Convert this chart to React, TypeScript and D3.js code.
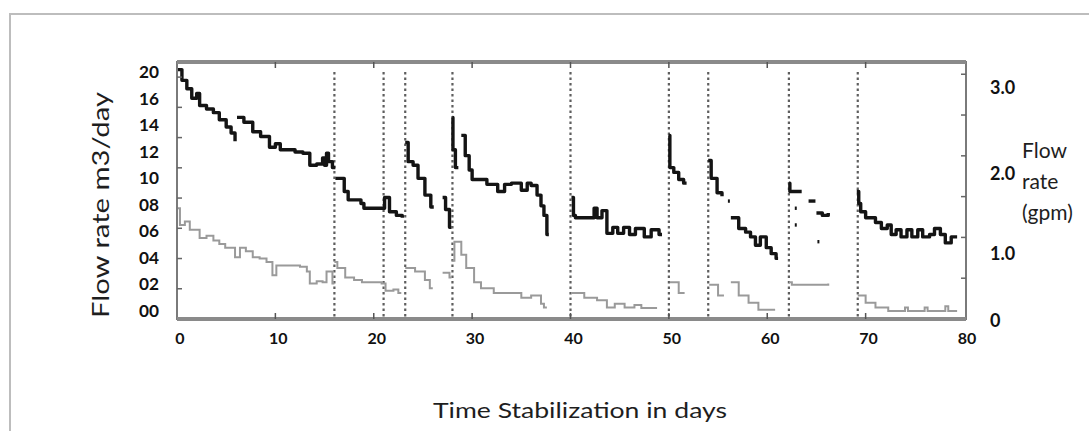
import React from "react";
import * as d3 from "d3";

type Pt = [number, number];

// day markers where the system was reset
const resetDays = [16, 21, 23.2, 28, 40, 50, 54, 62.2, 69.2];

const xTickValues = [0, 10, 20, 30, 40, 50, 60, 70, 80];
const leftTickLabels = ["20", "16", "14", "12", "10", "08", "06", "04", "02", "00"];
const rightTickValues = [3, 2, 1, 0];
const rightTitle = ["Flow", "rate", "(gpm)"];

// upper (black) series, m3/day, one array per run
const blackRuns: Pt[][] = [
  [[0, 20.2], [0.5, 19.3], [1, 18.6], [1.5, 17.8], [2, 18.2], [2.3, 17.2], [3, 16.9], [3.7, 16.6], [4.3, 16.0], [5, 15.4], [5.5, 14.9], [5.9, 14.2]],
  [[6.1, 16.2], [6.8, 15.8], [7.7, 15.0], [8.5, 14.6], [9.4, 13.7], [10, 14.0], [10.5, 13.5], [11.1, 13.5], [12, 13.3], [12.8, 13.2], [13.5, 12.2], [14.2, 12.3], [14.8, 12.8], [15, 12.2], [15.2, 13.2], [15.4, 12.5], [15.8, 12.0], [16.1, 12.0]],
  [[16.1, 11.1], [17, 10.0], [17.4, 9.3], [18.7, 9.0], [19, 8.6], [20.9, 8.6], [21.1, 9.5], [21.6, 8.3], [22.3, 8.0], [22.9, 7.8]],
  [[23.2, 14.1], [23.5, 12.5], [24, 12.2], [24.5, 11.1], [25.2, 9.7], [25.8, 8.7], [26.1, 8.7]],
  [[27, 9.5], [27.3, 8.5], [27.7, 7.0], [27.9, 7.0]],
  [[28, 16.2], [28.05, 13.5], [28.3, 12.0], [28.6, 12.0]],
  [[28.9, 14.7], [29.3, 13.0], [29.7, 11.8], [30, 11.0], [30.9, 11.0], [31.5, 10.6], [32.6, 10.0], [33.3, 10.6], [34, 10.7], [35, 10.1], [35.6, 10.7], [36, 10.5], [36.6, 9.7], [37, 8.8], [37.3, 8.0], [37.6, 6.4], [37.8, 6.4]],
  [[40.1, 9.5], [40.3, 8.0], [40.5, 7.8], [42.1, 7.8], [42.4, 8.6], [42.7, 7.8], [43.2, 8.4], [43.7, 6.5], [44.3, 7.0], [44.8, 6.5], [45.4, 7.0], [46, 6.4], [46.6, 6.9], [47.5, 6.2], [48.2, 6.8], [49, 6.4], [49.3, 6.4]],
  [[50, 14.7], [50.1, 12.0], [50.5, 11.6], [51, 11.0], [51.5, 10.7], [51.8, 10.7]],
  [[54, 12.6], [54.3, 11.1], [54.9, 9.9], [55.4, 9.6]],
  [[56, 9.2], [56.2, 9.2]],
  [[56.3, 7.8], [57.1, 6.9], [57.8, 6.6], [58.3, 6.2], [58.8, 5.5], [59.3, 6.2], [59.9, 5.3], [60.4, 4.8], [60.9, 4.4], [61.1, 4.4]],
  [[62.2, 10.7], [62.3, 10.0], [63.5, 10.0]],
  [[64.2, 9.2], [64.9, 9.2]],
  [[65, 8.2], [65.6, 8.0], [66.2, 8.2]],
  [[62.8, 8.6], [63, 8.6]],
  [[62.8, 7.2], [63, 7.2]],
  [[65.1, 5.8], [65.3, 5.8]],
  [[69.1, 10.0], [69.3, 9.0], [69.5, 8.3], [70, 7.8], [71, 7.4], [71.6, 6.9], [72.2, 7.2], [72.6, 6.4], [73.1, 6.8], [73.6, 6.2], [74.2, 6.8], [74.7, 6.2], [75.3, 6.8], [75.8, 6.2], [76.5, 6.4], [77, 6.9], [77.6, 6.4], [78.1, 5.7], [78.7, 6.2], [79.3, 6.2]],
];

// lower (grey) series, m3/day
const greyRuns: Pt[][] = [
  [[0, 8.6], [0.3, 7.2], [0.8, 7.5], [1.3, 6.8], [2.3, 6.1], [3, 6.3], [3.7, 5.9], [4.3, 5.6], [4.9, 5.3], [5.9, 4.5], [6.4, 5.3], [7, 5.0], [7.7, 4.5], [8.4, 4.4], [9.1, 4.1], [9.7, 3.0], [10.1, 3.8], [11, 3.8], [12.5, 3.7], [13.2, 3.3], [13.5, 2.3], [14.2, 2.5], [14.8, 2.4], [15.2, 3.3], [15.8, 2.3], [16, 2.3]],
  [[16, 4.1], [16.3, 3.6], [17.1, 2.8], [18, 2.6], [18.8, 2.4], [20.8, 2.3], [21.2, 1.7], [22, 1.8], [22.5, 1.5], [22.8, 1.5]],
  [[23.2, 3.6], [24.2, 3.3], [25.2, 2.6], [25.7, 1.9], [26, 1.9]],
  [[27, 3.2], [27.7, 2.8], [27.9, 2.8]],
  [[28, 4.2], [28.2, 5.8], [28.9, 4.7], [29.4, 3.6], [30.2, 2.4], [30.9, 1.9], [32.2, 1.5], [34, 1.5], [35, 1.1], [36, 1.3], [37, 0.6], [37.3, 0.3], [37.6, 0.3]],
  [[40.1, 1.5], [41.4, 1.1], [42.7, 0.9], [43.7, 0.3], [44.5, 0.6], [45.5, 0.3], [46.5, 0.5], [47.2, 0.25], [48.8, 0.25]],
  [[50.1, 2.4], [51, 1.5], [51.6, 1.5]],
  [[54.1, 2.2], [55, 1.3], [55.6, 1.3]],
  [[56.3, 2.4], [57.1, 1.3], [58.1, 0.7], [59.1, 0.1], [60.8, 0.1]],
  [[62.2, 2.4], [62.5, 2.2], [66.2, 2.3]],
  [[69.2, 1.3], [70, 0.7], [71, 0.3], [72.3, 0.0], [74, 0.3], [74.3, 0.0], [76, 0.3], [76.3, 0.0], [78.1, 0.4], [78.4, 0.0], [79.3, 0.0]],
];

const W = 1089;
const H = 431;
const frame = { left: 177, right: 966, top: 62, bottom: 319 };

const x = d3.scaleLinear().domain([0, 80]).range([frame.left, 964]);
const y = d3.scaleLinear().domain([0, 20]).range([311, 72]);
const yLabel = d3.scalePoint<string>().domain(leftTickLabels).range([72, 311]);
const yGpm = d3.scalePow().exponent(1.14).domain([0, 3]).range([320, 87]);
const yInner = d3.scaleLinear().domain([0, 8.5]).range([frame.bottom, frame.top]);
const yInnerRight = d3.scaleLinear().domain([0, 6.3]).range([frame.bottom, frame.top]);

const line = d3
  .line<Pt>()
  .x((d) => x(d[0]))
  .y((d) => y(d[1]))
  .curve(d3.curveStepAfter);

const numFont = "Lato, 'DejaVu Sans', sans-serif";
const titleFont = "Lato, 'Open Sans', sans-serif";

export default function App() {
  return (
    <svg
      width={W}
      height={H}
      style={{ position: "absolute", left: 0, top: 0, background: "#fff" }}
    >
      {/* outer page border */}
      <path d={`M10,${H} V14 H${W}`} fill="none" stroke="#bdbdbd" strokeWidth={2} />

      {/* reset markers */}
      {resetDays.map((d) => (
        <line
          key={d}
          x1={x(d)}
          x2={x(d)}
          y1={72}
          y2={frame.bottom - 2}
          stroke="#5e5e5e"
          strokeWidth={2.2}
          strokeDasharray="2.5,3"
        />
      ))}

      {/* grey series */}
      {greyRuns.map((run, i) => (
        <path key={"g" + i} d={line(run) || ""} fill="none" stroke="#9a9a9a" strokeWidth={2} />
      ))}

      {/* black series */}
      {blackRuns.map((run, i) => (
        <path key={"b" + i} d={line(run) || ""} fill="none" stroke="#141414" strokeWidth={3.4} strokeLinejoin="round" />
      ))}

      {/* frame */}
      <rect
        x={frame.left}
        y={frame.top}
        width={frame.right - frame.left}
        height={frame.bottom - frame.top}
        fill="none"
        stroke="#7a7a7a"
        strokeWidth={2}
      />
      <line x1={frame.left} x2={frame.right} y1={frame.top} y2={frame.top} stroke="#8a8a8a" strokeWidth={4} />
      <line x1={frame.left} x2={frame.right} y1={frame.bottom} y2={frame.bottom} stroke="#8a8a8a" strokeWidth={4} />

      {/* inner frame ticks */}
      {xTickValues.slice(1, -1).map((d) => (
        <g key={"t" + d} stroke="#555" strokeWidth={1.5}>
          <line x1={x(d)} x2={x(d)} y1={frame.top} y2={frame.top + 6} />
          <line x1={x(d)} x2={x(d)} y1={frame.bottom} y2={frame.bottom - 6} />
        </g>
      ))}
      {d3.range(1, 9).map((v) => (
        <line key={"l" + v} x1={frame.left} x2={frame.left + 5} y1={yInner(v)} y2={yInner(v)} stroke="#666" strokeWidth={1.5} />
      ))}
      {d3.range(1, 7).map((v) => (
        <line key={"r" + v} x1={frame.right} x2={frame.right - 5} y1={yInnerRight(v)} y2={yInnerRight(v)} stroke="#666" strokeWidth={1.5} />
      ))}

      {/* left tick labels */}
      {leftTickLabels.map((t) => (
        <text
          key={t}
          x={159}
          y={(yLabel(t) || 0) + 6}
          textAnchor="end"
          fontFamily={numFont}
          fontWeight="bold"
          fontSize={17}
          fill="#111"
          textLength={20}
          lengthAdjust="spacingAndGlyphs"
        >
          {t}
        </text>
      ))}

      {/* right tick labels */}
      {rightTickValues.map((v) => (
        <text
          key={v}
          x={990}
          y={yGpm(v) + 7}
          fontFamily={numFont}
          fontWeight="bold"
          fontSize={18}
          fill="#111"
        >
          {v === 0 ? "0" : v.toFixed(1)}
        </text>
      ))}

      {/* bottom tick labels */}
      {xTickValues.map((v) => (
        <text
          key={v}
          x={x(v) + 3}
          y={344}
          textAnchor="middle"
          fontFamily={numFont}
          fontWeight="bold"
          fontSize={16}
          fill="#111"
        >
          {v}
        </text>
      ))}

      {/* axis titles */}
      <text
        transform="translate(109,205) rotate(-90)"
        textAnchor="middle"
        fontFamily={titleFont}
        fontSize={23}
        fill="#1e1e1e"
        textLength={226}
        lengthAdjust="spacingAndGlyphs"
      >
        Flow rate  m3/day
      </text>
      <text
        x={580}
        y={418}
        textAnchor="middle"
        fontFamily={titleFont}
        fontSize={22}
        fill="#1e1e1e"
        textLength={294}
        lengthAdjust="spacingAndGlyphs"
      >
        Time Stabilization in days
      </text>
      {rightTitle.map((t, i) => (
        <text
          key={t}
          x={1022}
          y={158 + i * 31}
          fontFamily={titleFont}
          fontSize={21}
          fill="#1e1e1e"
        >
          {t}
        </text>
      ))}
    </svg>
  );
}
